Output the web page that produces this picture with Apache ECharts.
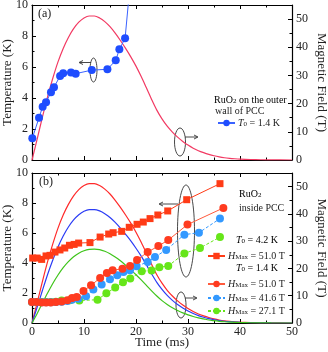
<!DOCTYPE html>
<html><head><meta charset="utf-8">
<script src="https://cdn.jsdelivr.net/npm/echarts@6/dist/echarts.min.js"></script>
<style>html,body{margin:0;padding:0;background:#fff}#c{width:328px;height:352px}</style>
</head><body><div id="c"></div>
<script>
// ---------- data ----------
const xTicks = [0, 10, 20, 30, 40, 50];
const tempTicks = [0, 2, 4, 6, 8, 10];
const fieldTicks = [0, 10, 20, 30, 40, 50];

// pulse field time base (ms)
const pulseTime = [0,1,2,3,4,5,6,7,8,9,10,11,12,13,14,15,16,17,18,19,20,21,22,23,24,25,26,27,28,29,30,31,32,33,34,35,36,37,38,39,40,42,44,46,50];
// field of 51 T pulse (T)
const field51 = [0,7.5,15.2,22.5,29,34.8,39.6,43.5,46.6,48.9,50.4,51.1,51.1,50.4,49.1,47.3,45,42.4,39.6,36.6,33.3,29.6,25.6,21.5,17.7,14.6,12,9.9,8.1,6.6,5.3,4.2,3.3,2.6,2.0,1.5,1.1,0.8,0.6,0.45,0.33,0.17,0.08,0.03,0];
// field of 41.6 T pulse (T)
const field416 = [0,5.8,11.9,17.8,23.1,27.9,31.9,35.2,37.8,39.7,41,41.6,41.6,41.1,40.1,38.7,36.9,34.8,32.5,30.1,27.4,24.5,21.3,18,14.9,12.3,10.1,8.3,6.8,5.5,4.4,3.5,2.7,2.1,1.6,1.2,0.9,0.65,0.48,0.35,0.26,0.13,0.06,0.02,0];
// field of 27.1 T pulse (T)
const field271 = [0,3.5,7.3,11,14.5,17.6,20.3,22.5,24.3,25.6,26.5,27,27.1,26.9,26.3,25.4,24.2,22.8,21.2,19.5,17.7,15.8,13.8,11.8,9.9,8.2,6.8,5.6,4.6,3.7,3,2.4,1.9,1.5,1.1,0.85,0.63,0.46,0.34,0.25,0.18,0.09,0.04,0.01,0];

// (a) RuO2 on outer wall, T0 = 1.4 K
const outerTime = [0.06,1.35,2.05,2.7,3.65,4.23,5.4,6.0,7.5,8.4,11.5,14.5,16.1,16.8,17.9,19.3];
const outerTemp = [1.4,2.73,3.44,3.72,4.37,4.69,5.42,5.6,5.65,5.57,5.8,5.85,6.43,7.14,7.85,12.9];

// (b) RuO2 inside PCC
const sq42Time = [0.13,1.0,1.86,2.7,3.46,4.42,5.38,6.3,7.2,8.1,8.97,11.15,13.1,14.75,15.6,17.25,18.7,20.2,21.4,22.7,24.2,26.1,29.75,36.15];
const sq42Temp = [4.33,4.33,4.24,4.47,4.51,4.73,4.87,5.0,5.18,5.24,5.33,5.36,5.73,5.93,6.02,6.11,6.38,6.58,6.73,6.96,7.2,7.47,8.22,9.29];

const c51Time = [0,0.9,1.86,2.7,3.6,4.6,5.7,6.8,7.7,8.6,9.9,11.35,13.1,14.4,15.5,17.4,18.85,20.2,22.25,24.3,26.2,29.9,36.8];
const c51Temp = [1.4,1.4,1.36,1.36,1.36,1.4,1.44,1.51,1.67,1.73,2.13,2.51,3.0,3.33,3.51,3.62,3.8,4.2,4.73,5.13,5.53,6.56,7.67];

const c416Time = [0,0.9,1.86,2.7,3.6,4.6,5.7,6.8,7.7,8.9,10.4,11.8,13.4,15,16.4,17.6,18.85,20.1,22.25,23.65,25.8,29.3,32.1,36.15];
const c416Temp = [1.4,1.4,1.38,1.38,1.38,1.4,1.42,1.47,1.55,1.62,1.78,2.24,2.56,2.91,3.18,3.4,3.51,3.78,4.07,4.4,4.87,5.89,6.02,6.96];

const c271Time = [0,0.9,1.86,2.7,3.6,4.6,5.7,7.3,9.1,12.6,14.3,16,17.5,18.9,21.1,23,24.5,26.2,29.3,32.3,36.15];
const c271Temp = [1.4,1.4,1.4,1.4,1.4,1.42,1.5,1.52,1.5,1.55,1.98,2.36,2.72,2.96,3.45,3.5,3.72,3.8,4.64,5.0,5.73];

// ---------- helpers ----------
const zip = (a, b) => a.map((v, i) => [v, b[i]]);
const FONT = 'Liberation Serif';
const INK = '#222';
const rich = {
  n: {fontFamily: FONT, fontSize: 10, color: INK},
  i: {fontFamily: FONT, fontSize: 10, fontStyle: 'italic', color: INK},
  s: {fontFamily: FONT, fontSize: 7, color: INK, verticalAlign: 'bottom', lineHeight: 8}
};

function xAx(grid, pos, labels) {
  return {
    gridIndex: grid, type: 'value', position: pos, min: 0, max: 50, interval: 10,
    axisLine: {show: true, onZero: false, lineStyle: {color: '#000', width: 1.2}},
    axisTick: {show: true, inside: true, length: 4, lineStyle: {color: '#000'}},
    minorTick: {show: true, splitNumber: 2, length: 2.5, lineStyle: {color: '#000'}},
    splitLine: {show: false},
    axisLabel: {show: labels, margin: 3, fontFamily: FONT, fontSize: 12, color: INK},
    name: labels ? 'Time (ms)' : '', nameLocation: 'middle', nameGap: 13, nameMoveOverlap: false,
    nameTextStyle: {fontFamily: FONT, fontSize: 13, color: INK}
  };
}
function yTemp(grid) {
  return {
    gridIndex: grid, type: 'value', position: 'left', min: 0, max: 10, interval: 2,
    axisLine: {show: true, onZero: false, lineStyle: {color: '#000', width: 1.2}},
    axisTick: {show: true, inside: true, length: 4, lineStyle: {color: '#000'}},
    minorTick: {show: true, splitNumber: 2, length: 2.5, lineStyle: {color: '#000'}},
    splitLine: {show: false},
    axisLabel: {margin: 4, fontFamily: FONT, fontSize: 12, color: INK},
    name: 'Temperature (K)', nameLocation: 'middle', nameGap: 18, nameRotate: 90, nameMoveOverlap: false,
    nameTextStyle: {fontFamily: FONT, fontSize: 13, color: INK}
  };
}
function yField(grid) {
  return {
    gridIndex: grid, type: 'value', position: 'right', min: 0, max: 55, interval: 10,
    axisLine: {show: true, onZero: false, lineStyle: {color: '#000', width: 1.2}},
    axisTick: {show: true, inside: true, length: 4, lineStyle: {color: '#000'}},
    minorTick: {show: true, splitNumber: 2, length: 2.5, lineStyle: {color: '#000'}},
    splitLine: {show: false},
    axisLabel: {margin: 4, fontFamily: FONT, fontSize: 12, color: INK,
      formatter: v => (fieldTicks.indexOf(v) >= 0 ? String(v) : '')},
    name: 'Magnetic Field (T)', nameLocation: 'middle', nameGap: 23, nameRotate: -90, nameMoveOverlap: false,
    nameTextStyle: {fontFamily: FONT, fontSize: 13, color: INK}
  };
}
function curve(name, xi, yi, data, color) {
  return {name, type: 'line', xAxisIndex: xi, yAxisIndex: yi, data, smooth: 0.3,
    showSymbol: false, symbol: 'none', lineStyle: {color, width: 1.2}, itemStyle: {color},
    silent: true, z: 2};
}
function pts(name, data, symbol, size, color, lineColor, dash) {
  return {name, type: 'line', xAxisIndex: 2, yAxisIndex: 2, data, symbol, symbolSize: size,
    showSymbol: true, itemStyle: {color, borderWidth: 0},
    lineStyle: {color: lineColor, width: 1, type: dash ? [3, 2] : 'solid'}, z: 3};
}
function leg(name, left, top) {
  return {data: [name], left, top, orient: 'horizontal', itemWidth: 17, itemHeight: 8,
    padding: 0, selectedMode: false,
    formatter: n => labelText[n], textStyle: {rich, padding: [0, 0, 0, -2]}};
}
const labelText = {
  outer: '{i|T}{s|0}{n| = 1.4 K}',
  sq42: '{i|H}{s|Max}{n| = 51.0 T}',
  c51: '{i|H}{s|Max}{n| = 51.0 T}',
  c416: '{i|H}{s|Max}{n| = 41.6 T}',
  c271: '{i|H}{s|Max}{n| = 27.1 T}'
};

const chart = echarts.init(document.getElementById('c'), null, {renderer: 'canvas'});
const option = {
  animation: false,
  backgroundColor: '#fff',
  grid: [
    {left: 32, top: 5, width: 260, height: 155, containLabel: false, outerBoundsMode: 'none'},
    {left: 32, top: 173, width: 260, height: 150, containLabel: false, outerBoundsMode: 'none'}
  ],
  xAxis: [xAx(0, 'bottom', false), xAx(0, 'top', false), xAx(1, 'bottom', true), xAx(1, 'top', false)],
  yAxis: [yTemp(0), yField(0), yTemp(1), yField(1)],
  legend: [
    leg('outer', 217, 118),
    leg('sq42', 207, 251),
    leg('c51', 207, 279),
    leg('c416', 207, 293),
    leg('c271', 207, 306)
  ],
  series: [
    curve('pulseA', 0, 1, zip(pulseTime, field51), '#f23a63'),
    {name: 'outer', type: 'line', xAxisIndex: 0, yAxisIndex: 0, data: zip(outerTime, outerTemp),
      symbol: 'circle', symbolSize: 8, itemStyle: {color: '#1f4dff'},
      lineStyle: {color: '#3a62ff', width: 1}, z: 3},
    curve('p51', 2, 3, zip(pulseTime, field51), '#ff2a2a'),
    curve('p416', 2, 3, zip(pulseTime, field416), '#2b3cf5'),
    curve('p271', 2, 3, zip(pulseTime, field271), '#3ec41a'),
    pts('c271', zip(c271Time, c271Temp), 'circle', 8, '#66e619', '#66e619', true),
    pts('c416', zip(c416Time, c416Temp), 'circle', 8, '#3399ff', '#3399ff', true),
    pts('c51', zip(c51Time, c51Temp), 'circle', 8, '#ff3b1f', '#ff5a3c', false),
    pts('sq42', zip(sq42Time, sq42Temp), 'rect', 7, '#ff3b16', '#ff3b16', false)
  ],
  graphic: [
    {type: 'text', left: 38, top: 8, style: {text: '(a)', font: '12px "Liberation Serif"', fill: INK}},
    {type: 'text', left: 39, top: 176, style: {text: '(b)', font: '12px "Liberation Serif"', fill: INK}},
    {type: 'text', left: 214, top: 95, style: {text: '{n|RuO}{s|2}{n| on the outer}', rich}},
    {type: 'text', left: 215, top: 106, style: {text: 'wall of PCC', font: '10px "Liberation Serif"', fill: INK}},
    {type: 'text', left: 239, top: 189, style: {text: '{n|RuO}{s|2}', rich}},
    {type: 'text', left: 239, top: 203, style: {text: 'inside PCC', font: '10px "Liberation Serif"', fill: INK}},
    {type: 'text', left: 236, top: 235, style: {text: '{i|T}{s|0}{n| = 4.2 K}', rich}},
    {type: 'text', left: 236, top: 263, style: {text: '{i|T}{s|0}{n| = 1.4 K}', rich}},
    // annotation loops and arrows
    {type: 'ellipse', shape: {cx: 93.5, cy: 70, rx: 3.5, ry: 12}, style: {fill: 'none', stroke: '#333', lineWidth: 0.9}},
    {type: 'line', shape: {x1: 91, y1: 62.5, x2: 80, y2: 62.5}, style: {stroke: '#333', lineWidth: 0.9}},
    {type: 'polyline', shape: {points: [[83, 60.5], [79, 62.5], [83, 64.5]]}, style: {stroke: '#333', fill: 'none', lineWidth: 0.9}},
    {type: 'ellipse', shape: {cx: 180, cy: 142, rx: 5.5, ry: 14}, style: {fill: 'none', stroke: '#333', lineWidth: 0.9}},
    {type: 'line', shape: {x1: 185, y1: 137, x2: 197, y2: 137}, style: {stroke: '#333', lineWidth: 0.9}},
    {type: 'polyline', shape: {points: [[194, 135], [198, 137], [194, 139]]}, style: {stroke: '#333', fill: 'none', lineWidth: 0.9}},
    {type: 'ellipse', shape: {cx: 186, cy: 231, rx: 8.5, ry: 46}, style: {fill: 'none', stroke: '#333', lineWidth: 0.9}},
    {type: 'line', shape: {x1: 178, y1: 204, x2: 160, y2: 204}, style: {stroke: '#333', lineWidth: 0.9}},
    {type: 'polyline', shape: {points: [[163, 202], [159, 204], [163, 206]]}, style: {stroke: '#333', fill: 'none', lineWidth: 0.9}},
    {type: 'ellipse', shape: {cx: 181, cy: 305, rx: 5, ry: 13}, style: {fill: 'none', stroke: '#333', lineWidth: 0.9}},
    {type: 'line', shape: {x1: 185, y1: 298, x2: 196, y2: 298}, style: {stroke: '#333', lineWidth: 0.9}},
    {type: 'polyline', shape: {points: [[193, 296], [197, 298], [193, 300]]}, style: {stroke: '#333', fill: 'none', lineWidth: 0.9}}
  ]
};
chart.setOption(option);
</script>
</body></html>
